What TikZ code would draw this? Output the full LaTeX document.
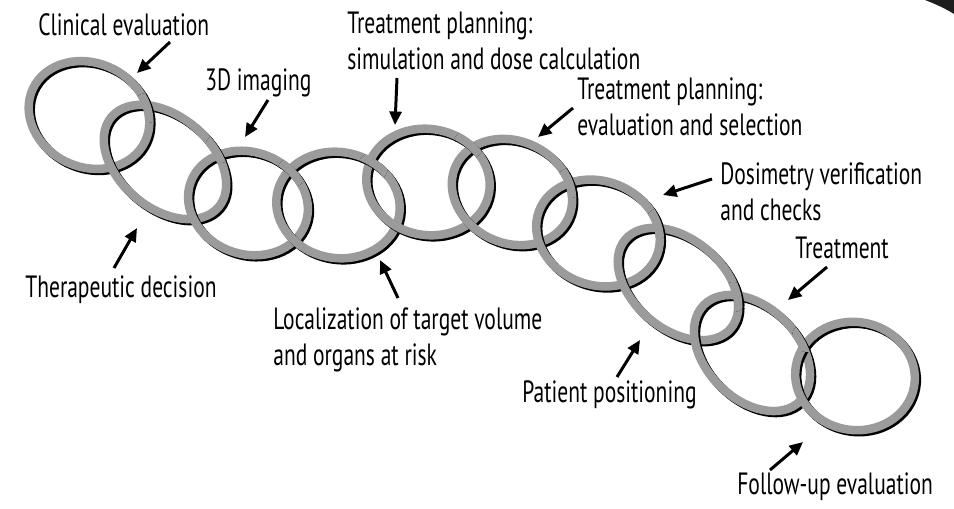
\documentclass[tikz,border=0pt]{standalone}
\usepackage{fontspec}
\setmainfont{PT Sans}[FakeStretch=0.7]
\usetikzlibrary{arrows.meta}

\definecolor{ringgray}{RGB}{155,155,155}
\definecolor{cornerblack}{RGB}{30,30,30}

% one chain link: centre x, centre y, x radius, y radius, tilt
\newcommand{\chainring}[5]{%
  \draw[ringshadow, shift={(#1+2,#2+2)}, rotate=#5] (0,0) ellipse [x radius=#3, y radius=#4];
  \draw[ringbody, shift={(#1,#2)}, rotate=#5] (0,0) ellipse [x radius=#3, y radius=#4];
}
% the same link again, only round one crossing, so that it lies on top there
\newcommand{\ringover}[7]{%
  \begin{scope}
    \clip (#6,#7) circle [radius=15];
    \chainring{#1}{#2}{#3}{#4}{#5}
  \end{scope}
}

\begin{document}
\begin{tikzpicture}[
    x=0.02cm, y=-0.02cm,
    every node/.style={font=\fontsize{17.5pt}{20pt}\selectfont, inner sep=0pt},
    label/.style={anchor=base west, align=left},
    ringbody/.style={draw=ringgray, line width=0.17cm},
    ringshadow/.style={draw=black, line width=0.17cm},
    pointer/.style={-{Triangle[length=0.27cm, width=0.24cm]}, line width=0.06cm},
]
\useasboundingbox (0,0) rectangle (954,508);
\fill[cornerblack] (925,0) .. controls (938,5) and (946,9) .. (954,14) -- (954,0) -- cycle;

% the chain
\chainring{89}{115}{62}{52}{-25}
\chainring{165}{162}{70}{46}{-40}
\chainring{248}{203}{61}{51}{-20}
\chainring{338}{205}{62}{53}{-10}
\chainring{428}{182}{62}{53}{-10}
\chainring{512}{192}{62}{51}{-25}
\chainring{598}{233}{63}{52}{-20}
\chainring{678}{284}{69}{45}{-40}
\chainring{752}{353}{68}{46}{-45}
\chainring{855}{376}{60}{54}{-10}

% interlocking
\ringover{89}{115}{62}{52}{-25}{147}{108}
\ringover{165}{162}{70}{46}{-40}{220}{148}
\ringover{248}{203}{61}{51}{-20}{292}{172}
\ringover{338}{205}{62}{53}{-10}{373}{167}
\ringover{428}{182}{62}{53}{-10}{468}{145}
\ringover{512}{192}{62}{51}{-25}{570}{183}
\ringover{598}{233}{63}{52}{-20}{660}{223}
\ringover{678}{284}{69}{45}{-40}{733}{297}
\ringover{752}{353}{68}{46}{-45}{807}{337}

% labels (base = last line)
\node[label] (clin) at (38,35) {Clinical evaluation};
\node[label] (img) at (205,90) {3D imaging};
\node[label] (sim) at (347,69) {Treatment planning:\\simulation and dose calculation};
\node[label] (eval) at (577,135) {Treatment planning:\\evaluation and selection};
\node[label] (dos) at (720,220) {Dosimetry verification\\and checks};
\node[label] (trt) at (795,258) {Treatment};
\node[label] (ther) at (25,297) {Therapeutic decision};
\node[label] (loc) at (273,365) {Localization of target volume\\and organs at risk};
\node[label] (pat) at (522,402) {Patient positioning};
\node[label] (fol) at (737,494) {Follow-up evaluation};

% arrow ends
\coordinate (clin-t) at (170,42);  \coordinate (clin-h) at (137,73);
\coordinate (img-t) at (268,100);  \coordinate (img-h) at (245,137);
\coordinate (sim-t) at (397,78);   \coordinate (sim-h) at (395,125);
\coordinate (eval-t) at (573,108); \coordinate (eval-h) at (538,137);
\coordinate (dos-t) at (712,179);  \coordinate (dos-h) at (663,195);
\coordinate (trt-t) at (827,267);  \coordinate (trt-h) at (788,300);
\coordinate (ther-t) at (114,268); \coordinate (ther-h) at (137,228);
\coordinate (loc-t) at (398,298);  \coordinate (loc-h) at (380,260);
\coordinate (pat-t) at (617,377);  \coordinate (pat-h) at (640,340);
\coordinate (fol-t) at (770,470);  \coordinate (fol-h) at (803,442);

\foreach \p in {clin,img,sim,eval,dos,trt,ther,loc,pat,fol}
  \draw[pointer] (\p-t) -- (\p-h);
\end{tikzpicture}
\end{document}
